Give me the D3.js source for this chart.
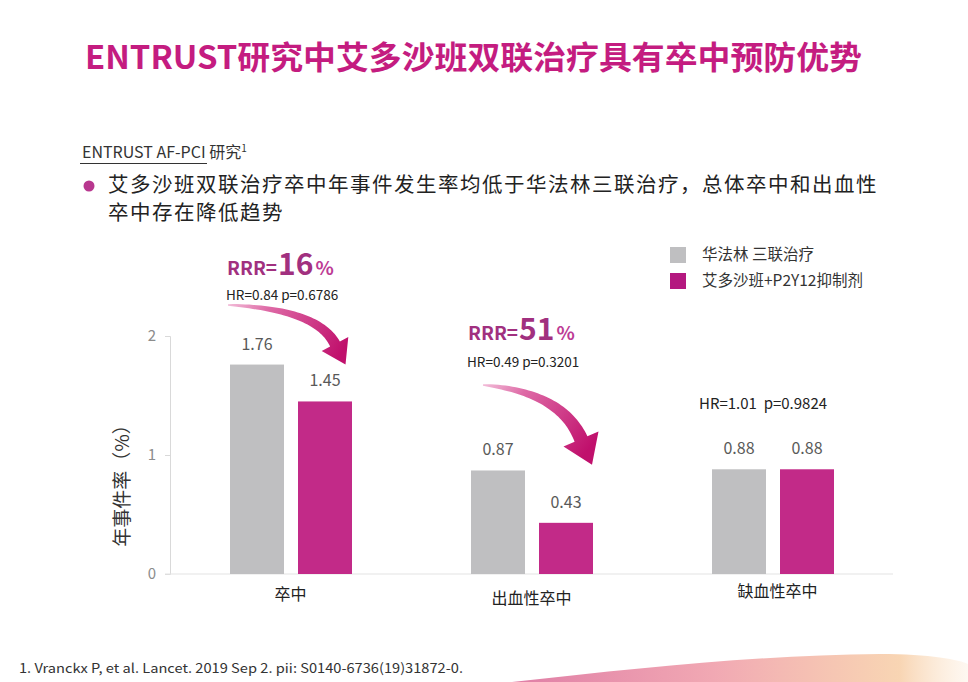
<!DOCTYPE html>
<html><head><meta charset="utf-8">
<script src="https://cdn.jsdelivr.net/npm/d3@7"></script>
<style>
html,body{margin:0;padding:0;background:#fff;}
svg{display:block;}
text{font-family:"Noto Sans CJK SC","Noto Sans",sans-serif;white-space:pre;}
</style></head>
<body>
<script>
// ---- data ----
const categories = ["卒中", "出血性卒中", "缺血性卒中"];
const seriesNames = ["华法林 三联治疗", "艾多沙班+P2Y12抑制剂"];
const warfarinValues = [1.76, 0.87, 0.88];
const edoxabanValues = [1.45, 0.43, 0.88];
const yTicks = [0, 1, 2];
const hrLabels = ["HR=0.84 p=0.6786", "HR=0.49 p=0.3201", "HR=1.01  p=0.9824"];
const rrrLabels = ["16", "51", null];
const titleText = "ENTRUST研究中艾多沙班双联治疗具有卒中预防优势";
const subtitleText = "ENTRUST AF-PCI 研究";
const bulletLines = ["艾多沙班双联治疗卒中年事件发生率均低于华法林三联治疗，总体卒中和出血性", "卒中存在降低趋势"];
const yAxisLabel = "年事件率（%）";
const footnote = "1. Vranckx P, et al. Lancet. 2019 Sep 2. pii: S0140-6736(19)31872-0.";

const W = 968, H = 682;
const colors = ["#bfbfc1", "#c22a88"];
const legendColors = ["#bfbfc1", "#b4187f"];

const svg = d3.select("body").append("svg").attr("width", W).attr("height", H);
svg.append("rect").attr("width", W).attr("height", H).attr("fill", "#fff");

const defs = svg.append("defs");
const sg = defs.append("linearGradient").attr("id", "swoosh").attr("x1", "0").attr("x2", "1").attr("y1", "0").attr("y2", "0");
sg.append("stop").attr("offset", "0").attr("stop-color", "#dc6f9c").attr("stop-opacity", 0.9);
sg.append("stop").attr("offset", "0.45").attr("stop-color", "#ef9aa6").attr("stop-opacity", 0.85);
sg.append("stop").attr("offset", "0.85").attr("stop-color", "#f6c79a").attr("stop-opacity", 0.75);
sg.append("stop").attr("offset", "1").attr("stop-color", "#fbe3c8").attr("stop-opacity", 0.25);

// ---- title ----
svg.append("text").attr("x", 85).attr("y", 69)
  .attr("textLength", 777).attr("lengthAdjust", "spacingAndGlyphs")
  .attr("font-size", 32).attr("font-weight", 700).attr("fill", "#c41c80")
  .text(titleText);

// subtitle
const st = svg.append("text").attr("x", 82).attr("y", 158).attr("font-size", 16).attr("fill", "#333");
st.append("tspan").text(subtitleText);
st.append("tspan").attr("font-size", 10).attr("dy", -6).text("1");
svg.append("line").attr("x1", 80).attr("x2", 207).attr("y1", 163.5).attr("y2", 163.5).attr("stroke", "#333").attr("stroke-width", 1);

// bullet
svg.append("circle").attr("cx", 89).attr("cy", 186).attr("r", 5.5).attr("fill", "#b8378f");
bulletLines.forEach((l, i) => {
  svg.append("text").attr("x", 108).attr("y", 192 + i * 28).attr("font-size", 20.5)
    .attr("letter-spacing", 1.5).attr("fill", "#222").text(l);
});

// ---- scales ----
const x = d3.scaleBand().domain(categories).range([170, 893]).padding(0);
const xInner = d3.scaleBand().domain(seriesNames).range([60, 182]).paddingInner(14 / 68).paddingOuter(0);
const y = d3.scaleLinear().domain([0, 2]).range([574, 336]);

// axes
const yAxis = d3.axisLeft(y).tickValues(yTicks).tickSize(5).tickPadding(9).tickFormat(d3.format("d"));
const ya = svg.append("g").attr("transform", "translate(170,0)").call(yAxis);
ya.select(".domain").attr("stroke", "#d9d9d9");
ya.selectAll(".tick line").attr("stroke", "#d9d9d9");
ya.selectAll(".tick text").attr("fill", "#8c8c8c").attr("font-size", 15).attr("font-family", "Liberation Sans, Arial, sans-serif");

svg.append("line").attr("x1", 165).attr("x2", 893).attr("y1", y(0)).attr("y2", y(0)).attr("stroke", "#e3e3e3");

svg.append("text").attr("transform", `translate(129,481) rotate(-90)`)
  .attr("text-anchor", "middle").attr("font-size", 19).attr("fill", "#333").text(yAxisLabel);

// bars
const rows = categories.map((c, i) => ({ cat: c, vals: [warfarinValues[i], edoxabanValues[i]] }));
const groups = svg.selectAll("g.grp").data(rows).enter().append("g").attr("class", "grp")
  .attr("transform", d => `translate(${x(d.cat)},0)`);
groups.selectAll("rect").data(d => d.vals.map((v, j) => ({ v, s: seriesNames[j], j }))).enter()
  .append("rect")
  .attr("x", d => xInner(d.s)).attr("width", xInner.bandwidth())
  .attr("y", d => y(d.v)).attr("height", d => y(0) - y(d.v))
  .attr("fill", d => colors[d.j]);
groups.selectAll("text.val").data(d => d.vals.map((v, j) => ({ v, s: seriesNames[j], j }))).enter()
  .append("text").attr("class", "val")
  .attr("x", d => xInner(d.s) + xInner.bandwidth() / 2).attr("y", d => y(d.v) - 15)
  .attr("text-anchor", "middle").attr("font-size", 16).attr("fill", "#595959")
  .attr("font-family", "Liberation Sans, Arial, sans-serif")
  .text(d => d.v.toFixed(2));

// category labels
const catDy = [0, 4, -3];
categories.forEach((c, i) => {
  svg.append("text").attr("x", x(c) + x.bandwidth() / 2 + (i === 2 ? 5 : 0)).attr("y", 600 + catDy[i])
    .attr("text-anchor", "middle").attr("font-size", 16).attr("fill", "#222").text(c);
});

// legend
seriesNames.forEach((s, i) => {
  svg.append("rect").attr("x", 670).attr("y", 247 + i * 26).attr("width", 16).attr("height", 16).attr("fill", legendColors[i]);
  svg.append("text").attr("x", 702).attr("y", 260 + i * 26).attr("font-size", 15.5).attr("fill", "#333").text(s);
});

// ---- annotations ----
const hrY = [300, 367, 409];
const rrrY = [275, 340];
categories.forEach((c, i) => {
  const gx = x(c) + xInner(seriesNames[0]);
  if (rrrLabels[i]) {
    const t = svg.append("text").attr("x", gx - 3).attr("y", rrrY[i]).attr("fill", "#a1307f").attr("font-weight", 700)
      .attr("font-family", "Liberation Sans, Arial, sans-serif");
    t.append("tspan").attr("font-size", 19).text("RRR=");
    t.append("tspan").attr("font-size", 30).attr("dx", 1).text(rrrLabels[i]);
    t.append("tspan").attr("font-size", 19).attr("dx", 2).attr("fill", "#bd3b95").text("%");
    svg.append("text").attr("x", gx - 4).attr("y", hrY[i]).attr("font-size", 13.5).attr("fill", "#222")
      .attr("font-family", "Liberation Sans, Arial, sans-serif").text(hrLabels[i]);
  } else {
    svg.append("text").attr("x", gx - 13).attr("y", hrY[i]).attr("font-size", 15).attr("fill", "#222")
      .attr("font-family", "Liberation Sans, Arial, sans-serif").text(hrLabels[i]);
  }
});

// curved arrows
function arrowPath(p0, p1, p2, w0, w1, headLen, headHalf) {
  const N = 40, L = [], R = [];
  const B = t => [(1 - t) * (1 - t) * p0[0] + 2 * (1 - t) * t * p1[0] + t * t * p2[0],
                  (1 - t) * (1 - t) * p0[1] + 2 * (1 - t) * t * p1[1] + t * t * p2[1]];
  const D = t => [2 * (1 - t) * (p1[0] - p0[0]) + 2 * t * (p2[0] - p1[0]),
                  2 * (1 - t) * (p1[1] - p0[1]) + 2 * t * (p2[1] - p1[1])];
  for (let k = 0; k <= N; k++) {
    const t = k / N, b = B(t), d = D(t), len = Math.hypot(d[0], d[1]);
    const n = [-d[1] / len, d[0] / len];
    const w = w0 + (w1 - w0) * Math.pow(t, 0.7);
    L.push([b[0] + n[0] * w / 2, b[1] + n[1] * w / 2]);
    R.push([b[0] - n[0] * w / 2, b[1] - n[1] * w / 2]);
  }
  const e = B(1), d = D(1), len = Math.hypot(d[0], d[1]);
  const u = [d[0] / len, d[1] / len], n = [-u[1], u[0]];
  const tip = [e[0] + u[0] * headLen, e[1] + u[1] * headLen];
  const bl = [e[0] + n[0] * headHalf, e[1] + n[1] * headHalf];
  const br = [e[0] - n[0] * headHalf, e[1] - n[1] * headHalf];
  const pts = L.concat([bl, tip, br], R.reverse());
  return "M" + pts.map(p => p[0].toFixed(1) + "," + p[1].toFixed(1)).join("L") + "Z";
}
const arrows = [
  { p0: [228, 305], p1: [317, 309], p2: [335, 344], w0: 1.5, w1: 11, hl: 23, hh: 15 },
  { p0: [483, 385], p1: [561, 392], p2: [581, 439], w0: 1.5, w1: 14, hl: 28, hh: 19 }
];
arrows.forEach((a, i) => {
  const g = defs.append("linearGradient").attr("id", "ag" + i).attr("gradientUnits", "userSpaceOnUse")
    .attr("x1", a.p0[0]).attr("y1", a.p0[1]).attr("x2", a.p2[0]).attr("y2", a.p2[1] + 20);
  g.append("stop").attr("offset", "0").attr("stop-color", "#f2bcd8");
  g.append("stop").attr("offset", "0.3").attr("stop-color", "#de6aa6");
  g.append("stop").attr("offset", "1").attr("stop-color", "#c0106c");
  svg.append("path").attr("d", arrowPath(a.p0, a.p1, a.p2, a.w0, a.w1, a.hl, a.hh)).attr("fill", `url(#ag${i})`);
});

// footnote
svg.append("text").attr("x", 19).attr("y", 673).attr("font-size", 13).attr("fill", "#333")
  .attr("textLength", 444).attr("lengthAdjust", "spacingAndGlyphs")
  .attr("font-family", "Liberation Sans, Arial, sans-serif").text(footnote);

// decorative swoosh
svg.append("path").attr("d", "M512,682 C640,668 760,655 880,654 C930,654 960,660 968,664 L968,682 Z").attr("fill", "url(#swoosh)");
</script>
</body></html>
